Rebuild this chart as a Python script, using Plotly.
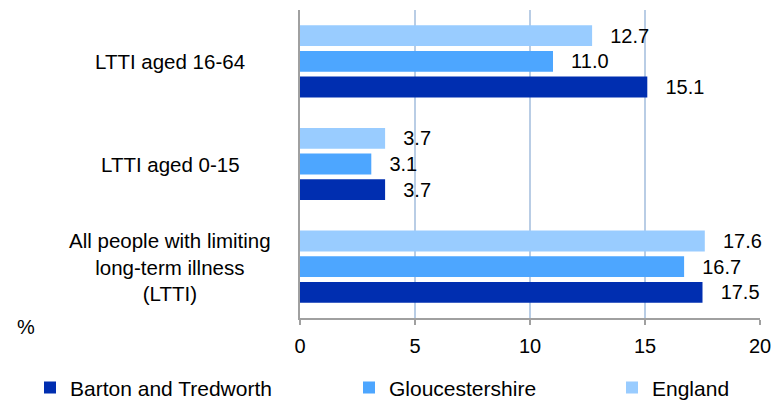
import plotly.graph_objects as go

categories = ["All people with limiting long-term illness (LTTI)", "LTTI aged 0-15", "LTTI aged 16-64"]
category_labels = ["All people with limiting<br>long-term illness<br>(LTTI)", "LTTI aged 0-15", "LTTI aged 16-64"]
series_names = ["Barton and Tredworth", "Gloucestershire", "England"]
barton = [17.5, 3.7, 15.1]
gloucestershire = [16.7, 3.1, 11.0]
england = [17.6, 3.7, 12.7]
x_ticks = [0, 5, 10, 15, 20]

colors = ["#002EB0", "#4DA6FF", "#99CCFF"]
series_values = [barton, gloucestershire, england]
legend_ids = ["legend2", "legend3", "legend4"]

FONT = "Liberation Sans, Arial, sans-serif"

fig = go.Figure()
for name, vals, col, lg in zip(series_names, series_values, colors, legend_ids):
    fig.add_trace(go.Bar(
        y=categories, x=vals, name=name, orientation="h",
        marker=dict(color=col, line=dict(width=0)),
        text=[f"\u00a0\u00a0\u2009{v:.1f}" for v in vals],
        textposition="outside", constraintext="none", cliponaxis=False,
        textfont=dict(size=20, color="#000000", family=FONT),
        legend=lg,
    ))

annotations = []
for i, lab in enumerate(category_labels):
    annotations.append(dict(
        text=lab, xref="paper", yref="y", x=-0.2826, y=i,
        xanchor="center", yanchor="middle", align="center", showarrow=False,
        font=dict(size=20.5, color="#000000", family=FONT),
    ))
annotations.append(dict(
    text="%", xref="paper", yref="paper", x=(26 - 300) / 460, y=-0.03,
    xanchor="center", yanchor="middle", showarrow=False,
    font=dict(size=20, color="#000000", family=FONT),
))

leg_common = dict(orientation="h", yanchor="middle", xanchor="left",
                  bgcolor="rgba(0,0,0,0)", font=dict(size=21, color="#000000", family=FONT),
                  y=-0.227)

fig.update_layout(
    width=776, height=402,
    margin=dict(l=300, r=16, t=10, b=84, autoexpand=False),
    paper_bgcolor="white", plot_bgcolor="white",
    barmode="group", bargap=0.25, bargroupgap=0.19,
    font=dict(family=FONT, size=20, color="#000000"),
    annotations=annotations,
    legend2=dict(x=(30 - 300) / 460, **leg_common),
    legend3=dict(x=(349 - 300) / 460, **leg_common),
    legend4=dict(x=(612 - 300) / 460, **leg_common),
    xaxis=dict(range=[0, 20], tickvals=x_ticks, ticktext=[str(t) for t in x_ticks],
               showgrid=True, gridcolor="#B9CDE5", gridwidth=1.5,
               showline=True, linecolor="#A0A0A0", linewidth=2,
               ticks="outside", ticklen=5, tickcolor="#A0A0A0", tickwidth=2,
               ticklabelstandoff=4, zeroline=False,
               tickfont=dict(size=20, color="#000000", family=FONT)),
    yaxis=dict(type="category", categoryorder="array", categoryarray=categories,
               showticklabels=False, showgrid=False, showline=True,
               linecolor="#A0A0A0", linewidth=2, ticks="", zeroline=False),
)

fig.write_html("out.html", config={"displayModeBar": False},
               post_script="document.body.style.margin='0';document.body.style.overflow='hidden';")
